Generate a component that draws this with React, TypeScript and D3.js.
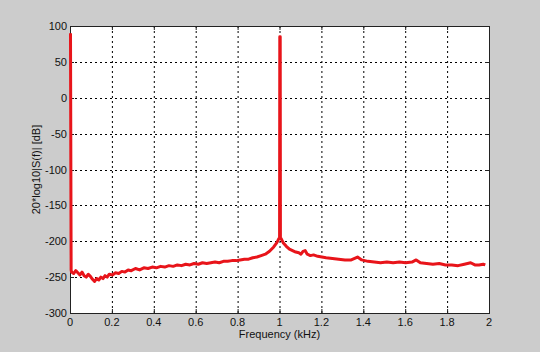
import React from "react";
import * as d3 from "d3";

const freq: number[] = [
  0, 0.003, 0.005, 0.015, 0.025, 0.035, 0.045, 0.055, 0.065, 0.075, 0.085, 0.095,
  0.105, 0.115, 0.125, 0.135, 0.145, 0.155, 0.165, 0.175, 0.185, 0.2, 0.215, 0.23,
  0.245, 0.26, 0.275, 0.29, 0.31, 0.33, 0.35, 0.37, 0.39, 0.41, 0.43, 0.45, 0.47,
  0.49, 0.51, 0.53, 0.55, 0.57, 0.59, 0.61, 0.63, 0.65, 0.67, 0.69, 0.71, 0.73,
  0.75, 0.77, 0.79, 0.81, 0.83, 0.85, 0.87, 0.89, 0.91, 0.93, 0.95, 0.97, 0.985,
  0.995, 0.998, 0.999, 1.001, 1.002, 1.005, 1.015, 1.03, 1.045, 1.06, 1.075,
  1.09, 1.1, 1.11, 1.12, 1.13, 1.145, 1.16, 1.18, 1.2, 1.22, 1.25, 1.28, 1.31,
  1.34, 1.37, 1.39, 1.42, 1.45, 1.48, 1.51, 1.54, 1.57, 1.6, 1.63, 1.65, 1.67,
  1.7, 1.73, 1.76, 1.79, 1.82, 1.85, 1.88, 1.91, 1.93, 1.95, 1.97, 1.98,
];

const dB: number[] = [
  90, -240, -243, -245, -241, -244, -247, -243, -248, -250, -246, -249,
  -253, -256, -252, -254, -250, -252, -248, -250, -246, -247, -244, -245,
  -242, -243, -240, -241, -238, -240, -237, -238, -236, -237, -235, -236, -234,
  -235, -233, -234, -232, -233, -231, -232, -230, -231, -230, -229, -230, -228,
  -228, -227, -227, -226, -225, -225, -223, -222, -220, -218, -214, -208, -202,
  -196, -195, 85, 85, -195, -196, -202, -207, -211, -213, -215,
  -216, -218, -214, -213, -218, -220, -219, -221, -222, -223, -224, -225, -226,
  -226, -222, -226, -228, -229, -230, -229, -230, -229, -230, -229, -226, -230,
  -231, -232, -231, -233, -233, -234, -232, -230, -233, -233, -232, -233,
];

const xTicks: number[] = [0, 0.2, 0.4, 0.6, 0.8, 1, 1.2, 1.4, 1.6, 1.8, 2];
const yTicks: number[] = [-300, -250, -200, -150, -100, -50, 0, 50, 100];

const W = 540;
const H = 352;
const L = 70;
const R = 489;
const T = 26;
const B = 313;

export default function App() {
  const x = d3.scaleLinear().domain([0, 2]).range([L, R]);
  const y = d3.scaleLinear().domain([-300, 100]).range([B, T]);
  const pts: [number, number][] = freq.map((f, i) => [f, dB[i]]);
  const line = d3
    .line<[number, number]>()
    .x((d) => x(d[0]) + 0.5)
    .y((d) => y(d[1]));
  const font = "'Liberation Sans', Arial, sans-serif";
  return (
    <svg
      width={W}
      height={H}
      style={{ position: "absolute", left: 0, top: 0 }}
      fontFamily={font}
    >
      <rect x={0} y={0} width={W} height={H} fill="#cccccc" />
      <rect x={L} y={T} width={R - L} height={B - T} fill="#ffffff" />
      {xTicks.slice(1, -1).map((t) => (
        <line
          key={"gx" + t}
          x1={x(t) + 0.5}
          x2={x(t) + 0.5}
          y1={T}
          y2={B}
          stroke="#000"
          strokeWidth={1}
          strokeDasharray="2,3"
        />
      ))}
      {yTicks.slice(1, -1).map((t) => (
        <line
          key={"gy" + t}
          x1={L}
          x2={R}
          y1={Math.round(y(t)) + 0.5}
          y2={Math.round(y(t)) + 0.5}
          stroke="#000"
          strokeWidth={1}
          strokeDasharray="2,3"
        />
      ))}
      {xTicks.map((t) => (
        <g key={"tx" + t}>
          <line x1={x(t) + 0.5} x2={x(t) + 0.5} y1={B} y2={B - 4} stroke="#222" />
          <line x1={x(t) + 0.5} x2={x(t) + 0.5} y1={T} y2={T + 4} stroke="#222" />
          <text x={x(t)} y={326} fontSize={11} textAnchor="middle" fill="#111">
            {String(t)}
          </text>
        </g>
      ))}
      {yTicks.map((t) => (
        <g key={"ty" + t}>
          <line x1={L} x2={L + 4} y1={Math.round(y(t)) + 0.5} y2={Math.round(y(t)) + 0.5} stroke="#222" />
          <line x1={R - 4} x2={R} y1={Math.round(y(t)) + 0.5} y2={Math.round(y(t)) + 0.5} stroke="#222" />
          <text x={67} y={y(t) + 4} fontSize={11} textAnchor="end" fill="#111">
            {String(t)}
          </text>
        </g>
      ))}
      <rect
        x={L + 0.5}
        y={T + 0.5}
        width={R - L}
        height={B - T}
        fill="none"
        stroke="#222"
        strokeWidth={1}
      />
      <path
        d={line(pts) || ""}
        fill="none"
        stroke="#e8141a"
        strokeWidth={3}
        strokeLinejoin="round"
      />
      <text x={(L + R) / 2} y={338} fontSize={11} textAnchor="middle" fill="#111">
        Frequency (kHz)
      </text>
      <text
        transform={`translate(40,${(T + B) / 2}) rotate(-90)`}
        fontSize={11}
        textAnchor="middle"
        fill="#111"
      >
        20*log10|S(f)| [dB]
      </text>
    </svg>
  );
}
